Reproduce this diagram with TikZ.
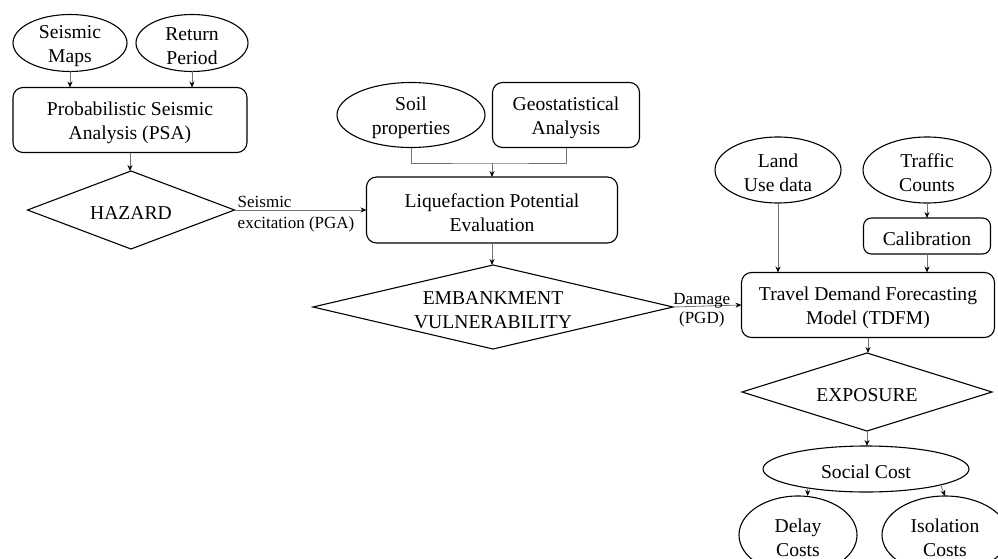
\documentclass[tikz,border=0pt]{standalone}
\usepackage{fontspec}
\setmainfont{Liberation Serif}
\usetikzlibrary{shapes.geometric,arrows.meta}
\newcommand\tupstrut{\rule{0pt}{19pt}}
\begin{document}
\begin{tikzpicture}[x=1pt,y=-1pt,
 base/.style={draw=black,line width=1.1pt,align=center,inner sep=0pt,outer sep=0pt,font=\fontsize{19.6}{23.5}\selectfont},
 ell/.style={base,ellipse,inner ysep=-6pt,inner xsep=-2pt},
 box/.style={base,rectangle,rounded corners=10pt},
 dia/.style={base,diamond},
 conn/.style={draw=black!55,line width=0.8pt},
 arr/.style={conn,-{Stealth[color=black,length=6pt,width=5pt]}},
 lab/.style={font=\fontsize{17}{20}\selectfont,inner sep=0pt,text=black}]
\useasboundingbox (0,0) rectangle (998,559);

\node[ell,minimum width=114pt,minimum height=57pt] (sm) at (70,43) {\tupstrut Seismic\\Maps};
\node[ell,minimum width=112pt,minimum height=57pt] (rp) at (192,43) {\tupstrut Return\\Period};
\node[box,minimum width=234pt,minimum height=65pt] (psa) at (130,120) {\tupstrut Probabilistic Seismic\\Analysis (PSA)};
\node[dia,aspect=2.65,minimum width=207pt,minimum height=78pt] (haz) at (131,210) {\tupstrut HAZARD};
\node[ell,minimum width=148pt,minimum height=65pt] (soil) at (411,115) {\tupstrut Soil\\properties};
\node[box,minimum width=147pt,minimum height=65pt] (geo) at (566,115) {\tupstrut Geostatistical\\Analysis};
\node[box,minimum width=251pt,minimum height=66pt] (liq) at (492,210) {\tupstrut Liquefaction Potential\\Evaluation};
\node[dia,aspect=4.29,minimum width=360pt,minimum height=84pt] (emb) at (493,307) {\tupstrut EMBANKMENT\\VULNERABILITY};
\node[box,minimum width=253pt,minimum height=65pt] (tdfm) at (868,305) {\tupstrut Travel Demand Forecasting\\Model (TDFM)};
\node[ell,minimum width=126pt,minimum height=66pt] (land) at (778,170) {\tupstrut Land\\Use data};
\node[ell,minimum width=128pt,minimum height=66pt] (traf) at (927,170) {\tupstrut Traffic\\Counts};
\node[box,minimum width=127pt,minimum height=36pt,rounded corners=8pt] (cal) at (927,236) {\tupstrut Calibration};
\node[dia,aspect=3.2,minimum width=250pt,minimum height=78pt] (exp) at (867,392) {\tupstrut EXPOSURE};
\node[ell,minimum width=206pt,minimum height=46pt] (sc) at (866,469) {\tupstrut Social Cost};
\node[ell,minimum width=118pt,minimum height=78pt] (del) at (798,535) {\tupstrut Delay\\Costs};
\node[ell,minimum width=126pt,minimum height=78pt] (iso) at (945,535) {\tupstrut Isolation\\Costs};

\draw[arr] (sm.south) -- (sm.south |- psa.north);
\draw[arr] (rp.south) -- (rp.south |- psa.north);
\draw[arr] (psa.south) -- (psa.south |- haz.north);
\draw[arr] (haz.east) -- (liq.west);
\node[lab,anchor=base west] (l1) at ([xshift=3pt,yshift=3pt]haz.east) {Seismic};
\node[lab,anchor=base west] (l2) at ([xshift=3pt,yshift=-18pt]haz.east) {excitation (PGA)};

\coordinate (j) at ([yshift=14pt]liq.north);
\draw[conn] (soil.south) |- (j) -| (geo.south);
\draw[arr] (j) -- (liq.north);
\draw[arr] (liq.south) -- (liq.south |- emb.north);

\draw[arr] (emb.east) -- (tdfm.west)
  node[lab,pos=0.42,anchor=base,yshift=2pt] (dmg) {Damage}
  node[lab,pos=0.42,anchor=base,yshift=-17pt] (pgd) {(PGD)};

\draw[arr] (land.south) -- (land.south |- tdfm.north);
\draw[arr] (traf.south) -- (cal.north);
\draw[arr] (cal.south) -- (cal.south |- tdfm.north);
\draw[arr] (tdfm.south) -- (tdfm.south |- exp.north);
\draw[arr] (exp.south) -- (exp.south |- sc.north);
\draw[arr] (sc.198) -- (sc.198 |- del.north);
\draw[arr] (sc.348) -- (iso.north);
\end{tikzpicture}
\end{document}
